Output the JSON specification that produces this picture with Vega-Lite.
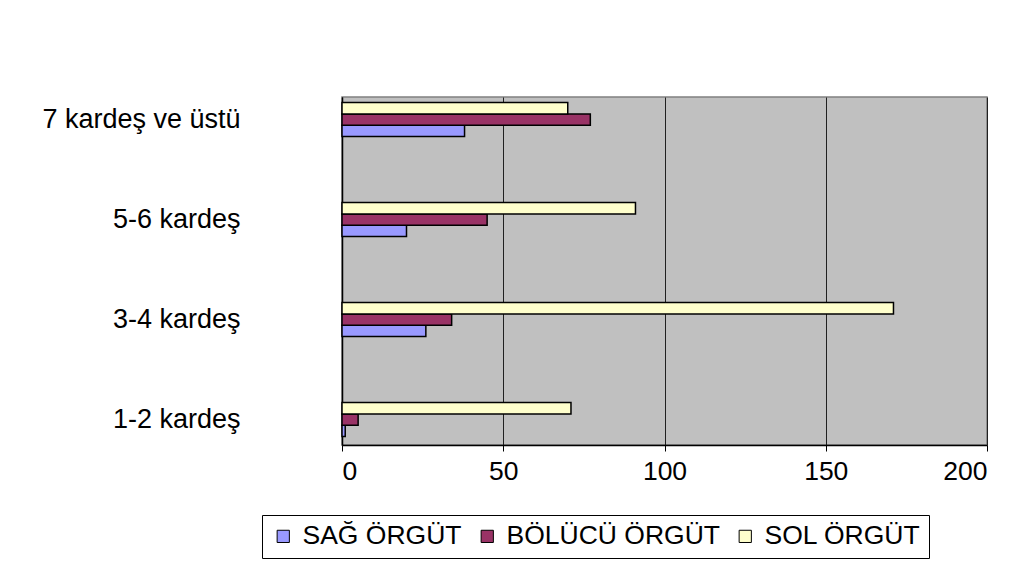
{
  "$schema": "https://vega.github.io/schema/vega-lite/v6.json",
  "autosize": {"type": "none"},
  "width": 645,
  "height": 348,
  "padding": {"left": 342, "top": 97, "right": 36, "bottom": 140},
  "background": "white",
  "config": {
    "font": "Liberation Sans",
    "view": {"fill": "#C0C0C0", "stroke": "#808080", "strokeWidth": 1.5}
  },
  "data": {
    "values": [
      {"kategori": "7 kardeş ve üstü", "orgut": "SAĞ ÖRGÜT", "deger": 38},
      {"kategori": "7 kardeş ve üstü", "orgut": "BÖLÜCÜ ÖRGÜT", "deger": 77},
      {"kategori": "7 kardeş ve üstü", "orgut": "SOL ÖRGÜT", "deger": 70},
      {"kategori": "5-6 kardeş", "orgut": "SAĞ ÖRGÜT", "deger": 20},
      {"kategori": "5-6 kardeş", "orgut": "BÖLÜCÜ ÖRGÜT", "deger": 45},
      {"kategori": "5-6 kardeş", "orgut": "SOL ÖRGÜT", "deger": 91},
      {"kategori": "3-4 kardeş", "orgut": "SAĞ ÖRGÜT", "deger": 26},
      {"kategori": "3-4 kardeş", "orgut": "BÖLÜCÜ ÖRGÜT", "deger": 34},
      {"kategori": "3-4 kardeş", "orgut": "SOL ÖRGÜT", "deger": 171},
      {"kategori": "1-2 kardeş", "orgut": "SAĞ ÖRGÜT", "deger": 1},
      {"kategori": "1-2 kardeş", "orgut": "BÖLÜCÜ ÖRGÜT", "deger": 5},
      {"kategori": "1-2 kardeş", "orgut": "SOL ÖRGÜT", "deger": 71}
    ]
  },
  "mark": {"type": "bar", "stroke": "black", "strokeWidth": 1.5},
  "encoding": {
    "y": {
      "field": "kategori",
      "type": "nominal",
      "sort": ["7 kardeş ve üstü", "5-6 kardeş", "3-4 kardeş", "1-2 kardeş"],
      "scale": {"paddingInner": 0.66, "paddingOuter": 0.07, "align": 0.4},
      "axis": {
        "title": null,
        "ticks": false,
        "labelFontSize": 27,
        "labelColor": "black",
        "labelPadding": 102,
        "labelLimit": 300,
        "domainColor": "black",
        "domainWidth": 1.5
      }
    },
    "yOffset": {
      "field": "orgut",
      "type": "nominal",
      "sort": ["SOL ÖRGÜT", "BÖLÜCÜ ÖRGÜT", "SAĞ ÖRGÜT"],
      "scale": {"paddingInner": 0, "paddingOuter": 0}
    },
    "x": {
      "field": "deger",
      "type": "quantitative",
      "scale": {"domain": [0, 200], "nice": false},
      "axis": {
        "title": null,
        "values": [0, 50, 100, 150, 200],
        "grid": true,
        "gridColor": "#202020",
        "gridWidth": 1,
        "labelFontSize": 26.5,
        "labelColor": "black",
        "tickColor": "black",
        "tickSize": 6,
        "labelPadding": 7,
        "domainColor": "black",
        "domainWidth": 1.5
      }
    },
    "color": {
      "field": "orgut",
      "type": "nominal",
      "scale": {
        "domain": ["SAĞ ÖRGÜT", "BÖLÜCÜ ÖRGÜT", "SOL ÖRGÜT"],
        "range": ["#9999FF", "#993366", "#FFFFCC"]
      },
      "legend": {
        "title": null,
        "orient": "none",
        "legendX": -80,
        "legendY": 418,
        "direction": "horizontal",
        "columns": 3,
        "strokeColor": "black",
        "fillColor": "white",
        "padding": 8,
        "symbolType": "square",
        "symbolSize": 150,
        "symbolStrokeColor": "black",
        "symbolStrokeWidth": 1,
        "labelFontSize": 26.5,
        "labelLimit": 400,
        "labelColor": "black",
        "labelOffset": 6,
        "columnPadding": 12
      }
    }
  }
}
